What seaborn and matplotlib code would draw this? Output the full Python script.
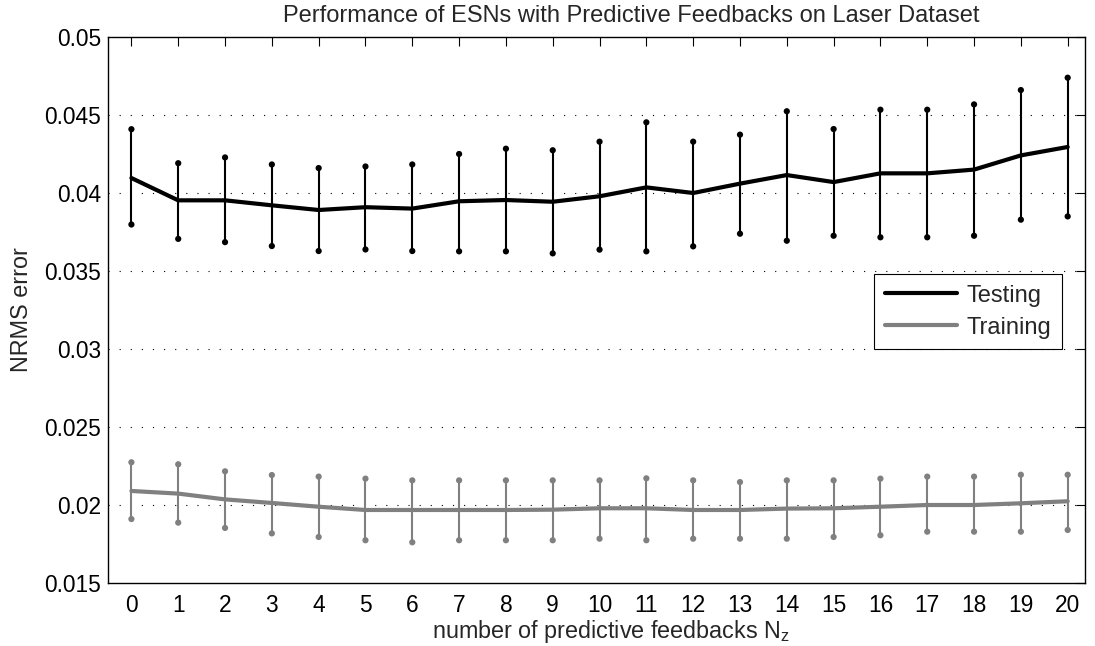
import numpy as np
import pandas as pd
import matplotlib
matplotlib.use("Agg")
import matplotlib.pyplot as plt
import seaborn as sns

n_feedbacks = list(range(21))

test_mean = [0.04096, 0.03953, 0.03953, 0.03921, 0.03891, 0.03909, 0.03900,
             0.03947, 0.03955, 0.03944, 0.03979, 0.04036, 0.04000, 0.04060,
             0.04115, 0.04070, 0.04126, 0.04126, 0.04150, 0.04241, 0.04295]
test_upper = [0.04409, 0.04191, 0.04228, 0.04183, 0.04160, 0.04170, 0.04183,
              0.04250, 0.04284, 0.04274, 0.04329, 0.04453, 0.04329, 0.04374,
              0.04524, 0.04410, 0.04534, 0.04534, 0.04568, 0.04660, 0.04739]
test_lower = [0.03798, 0.03706, 0.03685, 0.03660, 0.03628, 0.03638, 0.03628,
              0.03626, 0.03626, 0.03613, 0.03637, 0.03626, 0.03658, 0.03739,
              0.03694, 0.03726, 0.03716, 0.03716, 0.03726, 0.03829, 0.03850]

train_mean = [0.02090, 0.02073, 0.02036, 0.02013, 0.01989, 0.01968, 0.01968,
              0.01968, 0.01968, 0.01970, 0.01979, 0.01979, 0.01968, 0.01968,
              0.01977, 0.01979, 0.01989, 0.02000, 0.02000, 0.02011, 0.02024]
train_upper = [0.02274, 0.02261, 0.02216, 0.02192, 0.02182, 0.02169, 0.02158,
               0.02158, 0.02158, 0.02158, 0.02158, 0.02171, 0.02158, 0.02147,
               0.02158, 0.02158, 0.02169, 0.02182, 0.02182, 0.02194, 0.02194]
train_lower = [0.01910, 0.01887, 0.01853, 0.01818, 0.01795, 0.01774, 0.01761,
               0.01774, 0.01774, 0.01774, 0.01784, 0.01774, 0.01784, 0.01784,
               0.01784, 0.01795, 0.01806, 0.01829, 0.01829, 0.01829, 0.01840]

y_ticks = [0.015, 0.02, 0.025, 0.03, 0.035, 0.04, 0.045, 0.05]
y_tick_labels = ["0.015", "0.02", "0.025", "0.03", "0.035", "0.04", "0.045", "0.05"]

sns.set_style("white")
plt.rcParams["font.family"] = ["Liberation Sans", "DejaVu Sans"]
plt.rcParams["mathtext.fontset"] = "custom"
plt.rcParams["mathtext.rm"] = "Liberation Sans"

df = pd.DataFrame({
    "x": n_feedbacks * 2,
    "mean": test_mean + train_mean,
    "lower": test_lower + train_lower,
    "upper": test_upper + train_upper,
    "series": ["Testing"] * 21 + ["Training"] * 21,
})
palette = {"Testing": "#000000", "Training": "#808080"}

fig = plt.figure(figsize=(10.95, 6.46), dpi=100)
ax = fig.add_axes([108 / 1095, 1 - 583 / 646, (1085 - 108) / 1095, (583 - 37) / 646])

for name, sub in df.groupby("series"):
    c = palette[name]
    ax.vlines(sub["x"], sub["lower"], sub["upper"], color=c, lw=1.5, zorder=2)
    caps = pd.DataFrame({"x": list(sub["x"]) * 2,
                         "y": list(sub["lower"]) + list(sub["upper"])})
    sns.scatterplot(data=caps, x="x", y="y", color=c, s=20, edgecolor="none",
                    ax=ax, zorder=3, legend=False)

sns.lineplot(data=df, x="x", y="mean", hue="series", palette=palette,
             linewidth=3, ax=ax, zorder=4, errorbar=None)

ax.set_xlim(-0.5, 20.37)
ax.set_ylim(0.015, 0.05)
ax.set_xticks(n_feedbacks)
ax.set_xticklabels([str(v) for v in n_feedbacks])
ax.set_yticks(y_ticks)
ax.set_yticklabels(y_tick_labels)
ax.tick_params(direction="in", top=True, right=True, length=6.5, width=0.8,
               labelsize=16.4, colors="black")
ax.tick_params(axis="x", pad=8)
ax.tick_params(axis="y", pad=5)
for s in ax.spines.values():
    s.set_color("black")
    s.set_linewidth(1.0)
for yv in y_ticks[1:-1]:
    ax.axhline(yv, color="black", linestyle=(0, (1, 9)), linewidth=0.8, zorder=1)

ax.set_xlabel(r"number of predictive feedbacks N$_\mathregular{z}$", fontsize=16.8, labelpad=0)
ax.xaxis.set_label_coords(0.515, -0.065, transform=ax.transAxes)
ax.xaxis.label.set_va("top")
ax.set_ylabel("NRMS error", fontsize=16.8, labelpad=8)
ax.set_title("Performance of ESNs with Predictive Feedbacks on Laser Dataset",
             fontsize=17, pad=11, x=0.536)

handles, labels = ax.get_legend_handles_labels()
leg = ax.legend(handles, labels, loc="upper right", bbox_to_anchor=(0.9765, 0.566),
                fontsize=17, frameon=True, fancybox=False, edgecolor="black",
                framealpha=1, borderpad=0.45, handlelength=3.05, handletextpad=0.42,
                labelspacing=0.42, borderaxespad=0)
leg.get_frame().set_linewidth(0.8)

fig.savefig("out.png", dpi=100)
